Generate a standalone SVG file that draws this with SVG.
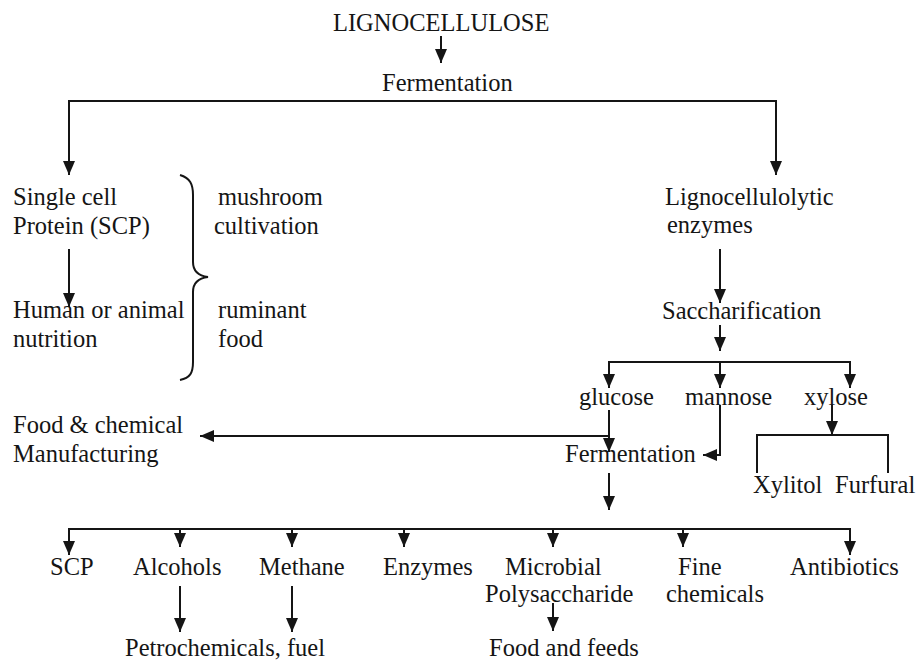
<svg xmlns="http://www.w3.org/2000/svg" width="916" height="663" viewBox="0 0 916 663">
<style>
text{font-family:"Liberation Serif","Times New Roman",serif;font-size:24.5px;fill:#151515}
.c path{fill:none;stroke:#151515;stroke-width:2}
.c path.a{marker-end:url(#ah)}
</style>
<defs>
<marker id="ah" markerUnits="userSpaceOnUse" markerWidth="14" markerHeight="12" refX="14" refY="6" orient="auto">
<path d="M0,0 L14,6 L0,12 z" fill="#151515"/>
</marker>
</defs>
<rect width="916" height="663" fill="#fff"/>
<g class="c" id="connectors">
<path class="a" d="M441,36 V63"/>
<path class="a" d="M447,101 H69 V175"/>
<path class="a" d="M447,101 H776 V175"/>
<path class="a" d="M69,249 V307"/>
<path d="M180,175 C190,178 193,184 193,195 V262 C193,272 200,276 208,277 C200,278 193,282 193,292 V362 C193,373 190,378 180,380"/>
<path class="a" d="M720,249 V303"/>
<path class="a" d="M720,325 V351"/>
<path class="a" d="M720,362 H609 V388"/>
<path class="a" d="M720,362 H850 V388"/>
<path class="a" d="M720,362 V388"/>
<path class="a" d="M609,410 V452"/>
<path class="a" d="M609,436 H200"/>
<path class="a" d="M720,405 V455 H703"/>
<path class="a" d="M832,405 V435"/>
<path d="M757,473 V435 H888 V473"/>
<path class="a" d="M609,473 V510"/>
<path class="a" d="M609,529 H69 V555"/>
<path class="a" d="M609,529 H850 V555"/>
<path class="a" d="M180,529 V547"/>
<path class="a" d="M292,529 V547"/>
<path class="a" d="M404,529 V547"/>
<path class="a" d="M553,529 V547"/>
<path class="a" d="M683,529 V547"/>
<path class="a" d="M180,586 V632"/>
<path class="a" d="M292,586 V632"/>
<path class="a" d="M553,603 V631"/>
</g>
<g id="lignocellulose"><text x="333" y="31">LIGNOCELLULOSE</text></g>
<g id="fermentation1"><text x="382" y="91">Fermentation</text></g>
<g id="scp-top"><text x="13" y="205">Single cell</text><text x="13" y="234">Protein (SCP)</text></g>
<g id="nutrition"><text x="13" y="318">Human or animal</text><text x="13" y="347">nutrition</text></g>
<g id="mushroom"><text x="218" y="205">mushroom</text><text x="214" y="234">cultivation</text></g>
<g id="ruminant"><text x="218" y="318">ruminant</text><text x="218" y="347">food</text></g>
<g id="enzymes-top"><text x="665" y="205">Lignocellulolytic</text><text x="667" y="233">enzymes</text></g>
<g id="saccharification"><text x="662" y="319">Saccharification</text></g>
<g id="glucose"><text x="579" y="405">glucose</text></g>
<g id="mannose"><text x="685" y="405">mannose</text></g>
<g id="xylose"><text x="804" y="405">xylose</text></g>
<g id="food-chem"><text x="13" y="433">Food &amp; chemical</text><text x="13" y="462">Manufacturing</text></g>
<g id="fermentation2"><text x="565" y="462">Fermentation</text></g>
<g id="xylitol"><text x="753" y="493">Xylitol</text></g>
<g id="furfural"><text x="835" y="493">Furfural</text></g>
<g id="scp"><text x="50" y="575">SCP</text></g>
<g id="alcohols"><text x="133" y="575">Alcohols</text></g>
<g id="methane"><text x="259" y="575">Methane</text></g>
<g id="enzymes"><text x="383" y="575">Enzymes</text></g>
<g id="microbial"><text x="505" y="575">Microbial</text><text x="485" y="602">Polysaccharide</text></g>
<g id="fine"><text x="678" y="575">Fine</text><text x="666" y="602">chemicals</text></g>
<g id="antibiotics"><text x="790" y="575">Antibiotics</text></g>
<g id="petro"><text x="125" y="656">Petrochemicals, fuel</text></g>
<g id="feeds"><text x="489" y="656">Food and feeds</text></g>
</svg>
